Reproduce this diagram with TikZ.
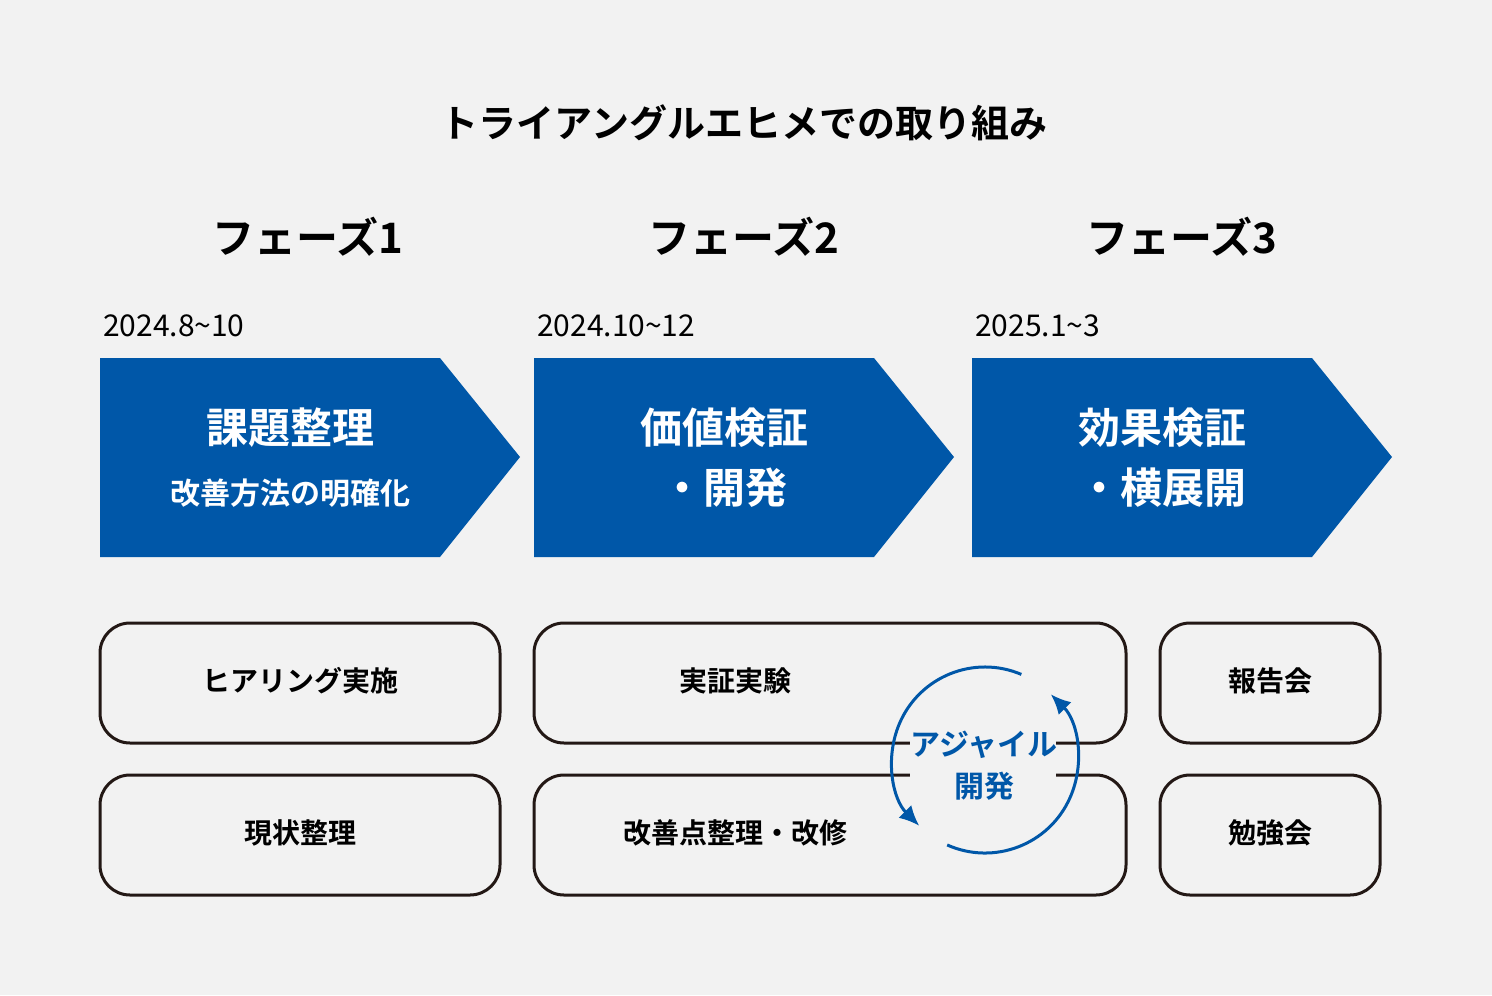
\documentclass[tikz,border=0pt]{standalone}
\usepackage{fontspec}
\setmainfont{Noto Sans CJK JP}[BoldFont={* Bold}]
\usetikzlibrary{arrows.meta}
\definecolor{bgray}{HTML}{F2F2F2}
\definecolor{eblue}{HTML}{0057A8}
\definecolor{edark}{HTML}{231815}
\tikzset{
  chevron/.style={fill=eblue, draw=none},
  taskbox/.style={draw=edark, line width=1.5pt, rounded corners=15pt},
  heading/.style={font=\bfseries\fontsize{21}{24}\selectfont},
  datelabel/.style={anchor=west, font=\fontsize{15}{17}\selectfont},
  mainlabel/.style={text=white, align=center, font=\bfseries\fontsize{21}{30}\selectfont},
  tasklabel/.style={font=\bfseries\fontsize{14}{16}\selectfont}
}
\begin{document}
\begin{tikzpicture}[x=0.5pt, y=-0.5pt]
        \fill[bgray] (0,0) rectangle (1492,995);
        \useasboundingbox (0,0) rectangle (1492,995);
        \node[font=\bfseries\fontsize{19}{22}\selectfont] (title) at (744,123) {トライアングルエヒメでの取り組み};
        % phases
        \node[heading] (ph1) at (308,237) {フェーズ1};
        \node[heading] (ph2) at (744,237) {フェーズ2};
        \node[heading] (ph3) at (1182,237) {フェーズ3};
        \node[datelabel] (d1) at (96,326) {2024.8\textasciitilde 10};
        \node[datelabel] (d2) at (530,326) {2024.10\textasciitilde 12};
        \node[datelabel] (d3) at (968,326) {2025.1\textasciitilde 3};
        \fill[chevron] (100,358) -- (440,358) -- (520,457) -- (440,557) -- (100,557) -- cycle;
        \fill[chevron] (534,358) -- (874,358) -- (954,457) -- (874,557) -- (534,557) -- cycle;
        \fill[chevron] (972,358) -- (1312,358) -- (1392,457) -- (1312,557) -- (972,557) -- cycle;
        \node[mainlabel] (m1) at (290,428) {課題整理};
        \node[text=white, font=\bfseries\fontsize{15}{17}\selectfont] (s1) at (290,493) {改善方法の明確化};
        \node[mainlabel] (m2) at (724,458) {価値検証\\・開発};
        \node[mainlabel] (m3) at (1162,458) {効果検証\\・横展開};
        % tasks
        \draw[taskbox] (100,623) rectangle (500,743);
        \draw[taskbox] (100,775) rectangle (500,895);
        \draw[taskbox] (534,623) rectangle (1126,743);
        \draw[taskbox] (534,775) rectangle (1126,895);
        \draw[taskbox] (1160,623) rectangle (1380,743);
        \draw[taskbox] (1160,775) rectangle (1380,895);
        \node[tasklabel] (t1) at (300,681) {ヒアリング実施};
        \node[tasklabel] (t2) at (300,833) {現状整理};
        \node[tasklabel] (t3) at (735,681) {実証実験};
        \node[tasklabel] (t4) at (735,833) {改善点整理・改修};
        \node[tasklabel] (t5) at (1270,681) {報告会};
        \node[tasklabel] (t6) at (1270,833) {勉強会};
        % agile cycle
        \fill[bgray] (910,735) rectangle (1056,785);
        \node[tasklabel, text=eblue, align=center, font=\bfseries\fontsize{15}{21}\selectfont] (agile) at (984,766) {アジャイル\\開発};
        \coordinate (cyc) at (985,760);
        \draw[eblue, line width=1.5pt, -{Latex[length=10pt,width=9pt]}] ([shift={(114:93)}]cyc) arc[start angle=114, end angle=-45, radius=93];
        \draw[eblue, line width=1.5pt, -{Latex[length=10pt,width=9pt]}] ([shift={(-67:93)}]cyc) arc[start angle=-67, end angle=-225, radius=93];
\end{tikzpicture}
\end{document}
